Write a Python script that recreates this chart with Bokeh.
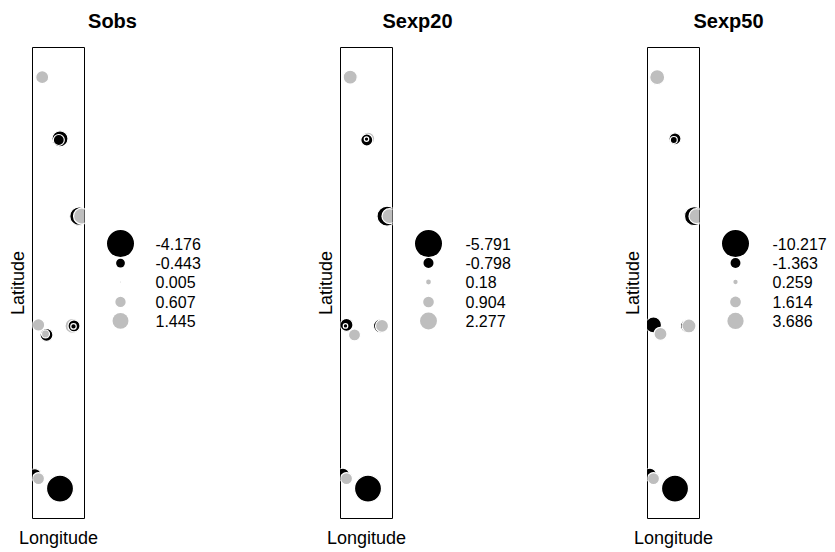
import math
from bokeh.plotting import figure
from bokeh.layouts import row, column
from bokeh.models import Range1d, FixedTicker, ColumnDataSource
from bokeh.core.properties import value
from bokeh.embed import file_html
from bokeh.resources import INLINE

# ---- data -------------------------------------------------------------
# station coordinates (shared by the three panels)
lon = [-8.803, -8.625, -8.637, -8.640, -8.435, -8.410, -8.760, -8.840,
       -8.770, -8.850, -8.500, -8.485, -8.490, -8.875, -8.840, -8.625]
lat = [41.423, 40.805, 40.793, 40.802, 40.030, 40.030, 38.840, 38.940,
       38.850, 38.930, 38.930, 38.930, 38.925, 37.440, 37.400, 37.300]

sobs = [0.968, -1.466, -0.693, 0.0, -1.96, 1.445, -0.953, 0.895,
        0.367, 0.0, 1.289, -0.825, -0.173, -0.825, 0.825, -4.176]
sexp20 = [1.557, 1.448, -1.144, -0.161, -3.178, 1.787, 1.144, -1.343,
          0.0, -0.161, -1.557, 1.343, 0.0, -1.343, 1.144, -5.791]
sexp50 = [3.153, -2.018, -0.687, 0.0, -5.059, 3.153, 0.0, -3.588,
          2.369, 0.0, -2.747, 2.747, 0.0, -2.369, 2.018, -10.217]

titles = ["Sobs", "Sexp20", "Sexp50"]

key_sobs = [-4.176, -0.443, 0.005, 0.607, 1.445]
key_sexp20 = [-5.791, -0.798, 0.18, 0.904, 2.277]
key_sexp50 = [-10.217, -1.363, 0.259, 1.614, 3.686]
key_labels_sobs = ["-4.176", "-0.443", "0.005", "0.607", "1.445"]
key_labels_sexp20 = ["-5.791", "-0.798", "0.18", "0.904", "2.277"]
key_labels_sexp50 = ["-10.217", "-1.363", "0.259", "1.614", "3.686"]

# ---- style / layout ---------------------------------------------------
NEG = "#000000"
POS = "#BEBEBE"
MAXSIZE = 27.0
FONT = "Liberation Sans"
TITLE_H = 45
ROW_H = 505
FRAME_H = 472   # the row aligns the key's frame with the map frames

KEY_ROW_Y = [196.5, 216, 235, 255, 274]


def bubble_size(v, vmax):
    return MAXSIZE * math.sqrt(abs(v) / vmax)


def map_fig(vals):
    vmax = max(abs(v) for v in vals)
    keep = [i for i, v in enumerate(vals) if v != 0]
    src = ColumnDataSource(dict(
        lon=[lon[i] for i in keep],
        lat=[lat[i] for i in keep],
        size=[bubble_size(vals[i], vmax) for i in keep],
        color=[NEG if vals[i] < 0 else POS for i in keep],
    ))
    p = figure(width=100, height=ROW_H,
               x_range=Range1d(-8.90, -8.38), y_range=Range1d(37.00, 41.72),
               output_backend="svg", toolbar_location=None,
               min_border_left=32, min_border_right=16,
               min_border_top=2, min_border_bottom=31)
    p.scatter(x="lon", y="lat", size="size", fill_color="color",
              line_color="white", line_width=1.2, source=src)
    p.grid.grid_line_color = None
    p.outline_line_color = "black"
    p.outline_line_width = 1
    p.outline_line_alpha = 1
    p.xaxis.axis_label = "Longitude"
    p.yaxis.axis_label = "Latitude"
    for ax in (p.xaxis[0], p.yaxis[0]):
        ax.ticker = FixedTicker(ticks=[])
        ax.axis_line_color = None
        ax.major_tick_line_color = None
        ax.minor_tick_line_color = None
        ax.major_tick_out = 0
        ax.major_tick_in = 0
        ax.major_label_standoff = 0
        ax.major_label_text_font_size = "0px"
        ax.axis_label_text_font = FONT
        ax.axis_label_text_font_size = "18px"
        ax.axis_label_text_font_style = "normal"
        ax.axis_label_text_color = "black"
    p.xaxis.axis_label_standoff = 9
    p.yaxis.axis_label_standoff = 5
    return p


def key_fig(width, keyvals, keylabels, dot_x, text_x):
    vmax = max(abs(v) for v in keyvals)
    k = figure(width=width, height=ROW_H,
               x_range=Range1d(0, width), y_range=Range1d(FRAME_H, 0),
               output_backend="svg", toolbar_location=None,
               x_axis_location=None, y_axis_location=None, min_border=0)
    k.grid.grid_line_color = None
    k.outline_line_color = None
    k.scatter(x=[dot_x] * len(keyvals), y=KEY_ROW_Y,
              size=[bubble_size(v, vmax) for v in keyvals],
              fill_color=[NEG if v < 0 else POS for v in keyvals],
              line_color=None)
    k.text(x=[text_x] * len(keylabels), y=KEY_ROW_Y, text=keylabels,
           text_font=value(FONT), text_font_size="16px",
           text_align="left", text_baseline="middle", text_color="black")
    return k


title_fig = figure(width=835, height=TITLE_H,
                   x_range=Range1d(0, 835), y_range=Range1d(TITLE_H, 0),
                   output_backend="svg", toolbar_location=None,
                   x_axis_location=None, y_axis_location=None, min_border=0)
title_fig.grid.grid_line_color = None
title_fig.outline_line_color = None
title_fig.text(x=[112, 417, 728], y=[20, 20, 20], text=titles,
               text_font=value(FONT), text_font_size="20px",
               text_font_style="bold", text_align="center",
               text_baseline="middle", text_color="black")

m1 = map_fig(sobs)
k1 = key_fig(208, key_sobs, key_labels_sobs, 20, 55)
m2 = map_fig(sexp20)
k2 = key_fig(207, key_sexp20, key_labels_sexp20, 20, 57)
m3 = map_fig(sexp50)
k3 = key_fig(120, key_sexp50, key_labels_sexp50, 20, 57)

p = column(title_fig, row(m1, k1, m2, k2, m3, k3))

open("out.html", "w").write(file_html(p, INLINE))
